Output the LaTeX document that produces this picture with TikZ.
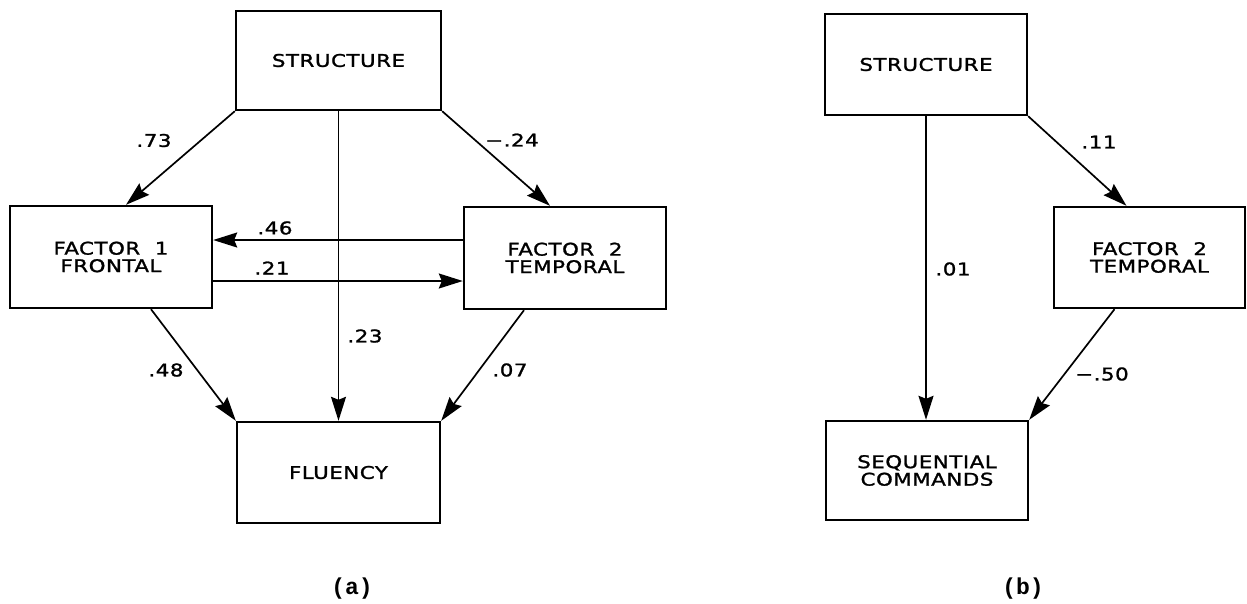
\documentclass[tikz,border=0pt]{standalone}
\usepackage{fontspec}
\newfontfamily\lett[FakeStretch=1.22,LetterSpace=3,FakeBold=1.4]{DejaVu Sans}
\setmonofont{Liberation Mono}
\usetikzlibrary{arrows.meta}
\begin{document}
\begin{tikzpicture}[x=1pt,y=-1pt,
  box/.style={draw,line width=2.4pt,rectangle,inner sep=0pt,align=center,
    font=\lett\fontsize{17.5}{17.5}\selectfont},
  conn/.style={line width=1.7pt,-{Stealth[length=24pt,width=15pt,inset=3pt]}},
  lab/.style={font=\lett\fontsize{17.5}{20}\selectfont,inner sep=0pt},
  captext/.style={font=\ttfamily\bfseries\fontsize{23}{25}\selectfont,inner sep=0pt}]
\useasboundingbox (0,0) rectangle (1247,603);
% (a)
\node[box,minimum width=205pt,minimum height=99pt] (S1) at (338.5,60.5) {STRUCTURE};
\node[box,minimum width=202pt,minimum height=102pt] (F1) at (111,257) {FACTOR\ \ 1\\FRONTAL};
\node[box,minimum width=202pt,minimum height=102pt] (F2) at (565,258) {FACTOR\ \ 2\\TEMPORAL};
\node[box,minimum width=203pt,minimum height=101pt] (FL) at (338.5,472.5) {FLUENCY};
\draw[conn] (S1.south west) -- ([xshift=15pt]F1.north);
\draw[conn] (S1.south east) -- ([xshift=-15pt]F2.north);
\draw[conn] (S1.south) -- (S1.south |- FL.north);
\draw[conn] ([yshift=18pt]F2.west) -- ([yshift=18pt]F2.west -| F1.east);
\draw[conn] ([yshift=-24pt]F1.east) -- ([yshift=-24pt]F1.east -| F2.west);
\draw[conn] ([xshift=40pt]F1.south) -- (FL.north west);
\draw[conn] ([xshift=-41pt]F2.south) -- (FL.north east);
\node[lab] (l73) at (154,140.5) {.73};
\node[lab] (l24) at (512,140) {−.24};
\node[lab] (l46) at (275,228) {.46};
\node[lab] (l21) at (272,268) {.21};
\node[lab] (l23) at (365,336) {.23};
\node[lab] (l48) at (166,370) {.48};
\node[lab] (l07) at (510,370) {.07};
\node[captext] (ca) at (352,589) {(a)};
% (b)
\node[box,minimum width=202pt,minimum height=101pt] (S2) at (926,64.5) {STRUCTURE};
\node[box,minimum width=191pt,minimum height=101pt] (F2b) at (1149.5,257.5) {FACTOR\ \ 2\\TEMPORAL};
\node[box,minimum width=202pt,minimum height=99pt] (SQ) at (927,470.5) {SEQUENTIAL\\COMMANDS};
\draw[conn] (S2.south) -- (S2.south |- SQ.north);
\draw[conn] (S2.south east) -- ([xshift=-23pt]F2b.north);
\draw[conn] ([xshift=-35pt]F2b.south) -- (SQ.north east);
\node[lab] (l01) at (953,269) {.01};
\node[lab] (l11) at (1099,142) {.11};
\node[lab] (l50) at (1102,374) {−.50};
\node[captext] (cb) at (1023,589) {(b)};
\end{tikzpicture}
\end{document}
